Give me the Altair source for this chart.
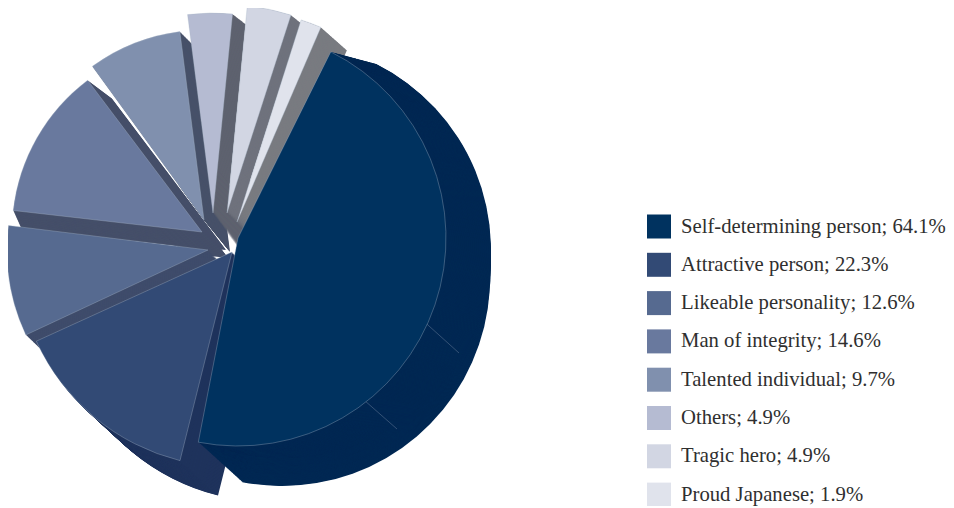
import math
import altair as alt
import pandas as pd

categories = ["Self-determining person", "Attractive person", "Likeable personality",
              "Man of integrity", "Talented individual", "Others", "Tragic hero", "Proud Japanese"]
values = [64.1, 22.3, 12.6, 14.6, 9.7, 4.9, 4.9, 1.9]
value_labels = ["64.1", "22.3", "12.6", "14.6", "9.7", "4.9", "4.9", "1.9"]
top_colors = ["#00325f", "#324a75", "#566a90", "#69799e", "#8090ae", "#b5bbd2", "#d2d6e3", "#e0e3ec"]
side_colors = ["#002853", "#1f335c", "#3f4c6b", "#454f69", "#475169", "#5e626f", "#6f727d", "#797b80"]

# perspective view of the pie: drawn angle span, apex, radius and depth sweeps per slice
angle_spans = [(26.5, 191), (194, 245.5), (245, 277), (276.5, 323), (324, 352.7),
               (352.7, 365.6), (365.6, 377.9), (377.6, 383.3)]
centers = [(238, 238), (232, 252), (208, 250), (202, 232), (204, 220), (213, 213), (227, 213), (237, 222)]
radii = [208, 215, 201, 190, 190, 200, 208, 212]
sweeps = [
    [(44, 40, 208), (45, 28, 208), (45, 20, 208), (45, 12, 208)],
    [(38, 35, 215)],
    [(28, 27, 201)],
    [(24, 18, 190), (8, 18, 190), (26, 26, 45)],
    [(12, 12, 190), (26, 32, 45)],
    [(13, 10, 200), (32, 44, 45)],
    [(10, 8, 208), (23, 24, 45)],
    [(26, 23, 212)],
]
paint_order = [3, 4, 5, 6, 7, 2, 1, 0]
M = 8  # page margin
EPS = 0.001

names = [f"{c}; {v}%" for c, v in zip(categories, value_labels)]
cum = [0.0]
for v in values:
    cum.append(round(cum[-1] + v, 1))

dom, rng = [], []
for i in range(len(values)):
    dom += [cum[i] + (EPS if i else 0), cum[i + 1]]
    rng += [math.radians(angle_spans[i][0]), math.radians(angle_spans[i][1])]

theta_scale = alt.Scale(domain=dom, range=rng)
x_enc = alt.X("x:Q", scale=None, axis=None)
y_enc = alt.Y("y:Q", scale=None, axis=None)
r_enc = alt.Radius("r:Q", scale=None)
th_enc = alt.Theta("start:Q", scale=theta_scale, stack=False)
th2_enc = alt.Theta2("end:Q")

legend = alt.Legend(title=None, orient="none", legendX=639, legendY=206.5, symbolType="square",
                    symbolSize=576, symbolStrokeWidth=0, symbolOpacity=1, labelFont="Liberation Serif",
                    labelFontSize=20.7, labelColor="#2f2f2f", labelOffset=10, labelLimit=400,
                    rowPadding=14.3, padding=0)

layers = []
for i in paint_order:
    cx, cy = centers[i]
    s = cum[i] + (EPS if i else 0)
    e = cum[i + 1]
    rows = []
    for ox, oy, r in sweeps[i]:
        n = int(max(abs(ox), abs(oy)) * 1.5)
        for k in range(n, 0, -1):
            rows.append({"start": s, "end": e, "r": r,
                         "x": cx - M + ox * k / n, "y": cy - M + oy * k / n})
    side = pd.DataFrame(rows)
    layers.append(alt.Chart(side).mark_arc(color=side_colors[i]).encode(
        x=x_enc, y=y_enc, radius=r_enc, theta=th_enc, theta2=th2_enc))
    if i == 0:
        for (x1, y1, x2, y2) in [(419, 317, 459, 353), (356, 393, 397, 429)]:
            layers.append(alt.Chart(pd.DataFrame({"k": [0]})).mark_rule(
                color="#4a6485", strokeWidth=0.7).encode(
                x=alt.value(x1 - M), y=alt.value(y1 - M), x2=alt.value(x2 - M), y2=alt.value(y2 - M)))
    face = pd.DataFrame([{"name": names[i], "start": s, "end": e,
                          "r": radii[i], "x": cx - M, "y": cy - M}])
    layers.append(alt.Chart(face).mark_arc(stroke="#a9b6c9", strokeWidth=0.5, strokeOpacity=0.7).encode(
        x=x_enc, y=y_enc, radius=r_enc, theta=th_enc, theta2=th2_enc,
        color=alt.Color("name:N", scale=alt.Scale(domain=names, range=top_colors), sort=None, legend=legend)))

chart = alt.layer(*layers).properties(
    width=938, height=498, padding=0, autosize=alt.AutoSizeParams(type="none"),
    background="white",
).configure_view(stroke=None)

chart.save("out.html", embed_options={"renderer": "svg", "actions": False})
